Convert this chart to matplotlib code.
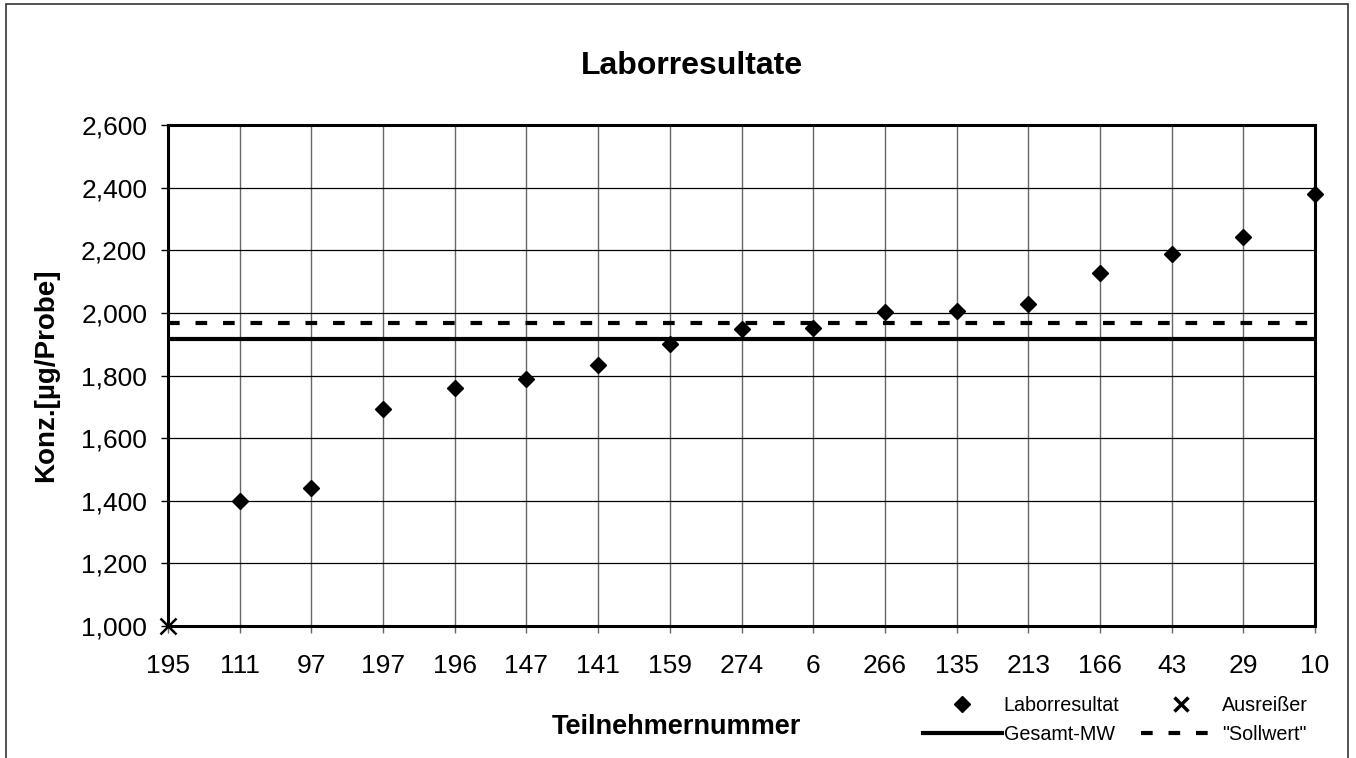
import matplotlib
matplotlib.use("Agg")
import matplotlib.pyplot as plt
from matplotlib.lines import Line2D
from matplotlib.patches import Rectangle

plt.rcParams["font.family"] = ["Liberation Sans", "DejaVu Sans"]

# Teilnehmer (x categories) and lab results
teilnehmer = ["195", "111", "97", "197", "196", "147", "141", "159", "274",
              "6", "266", "135", "213", "166", "43", "29", "10"]
laborresultat = [None, 1400, 1440, 1692, 1761, 1790, 1835, 1901, 1947,
                 1952, 2002, 2005, 2029, 2128, 2189, 2243, 2381]
ausreisser_idx = [0]
ausreisser_wert = [1000]
gesamt_mw = 1918
sollwert = 1967
y_ticks = [1000, 1200, 1400, 1600, 1800, 2000, 2200, 2400, 2600]

fig = plt.figure(figsize=(13.56, 7.58), dpi=100)
ax = fig.add_axes([0.1239, 0.1741, 0.8459, 0.661])

# outer chart frame
fig.patches.append(Rectangle((0.0045, -0.05), 0.9893, 1.0445, transform=fig.transFigure,
                             fill=False, edgecolor="#333333", linewidth=1.2))

x = list(range(len(teilnehmer)))
xs = [i for i, v in zip(x, laborresultat) if v is not None]
ys = [v for v in laborresultat if v is not None]

ax.set_xlim(0, len(teilnehmer) - 1)
ax.set_ylim(1000, 2600)

ax.axhline(gesamt_mw, color="black", linewidth=3, zorder=3)
ax.axhline(sollwert, color="black", linewidth=3, linestyle=(0, (2.8, 3.8)), zorder=3)
ax.plot(xs, ys, linestyle="none", marker="D", markersize=8, color="black",
        zorder=5, clip_on=False)
ax.plot(ausreisser_idx, ausreisser_wert, linestyle="none", marker="x", markersize=12,
        markeredgewidth=1.8, color="black", zorder=6, clip_on=False)

ax.set_xticks(x)
ax.set_xticklabels(teilnehmer)
ax.set_yticks(y_ticks)
ax.set_yticklabels([f"{v:,}" for v in y_ticks])
ax.tick_params(axis="both", labelsize=19, direction="out", length=5, width=1)
ax.tick_params(axis="x", pad=15, color="#666666")
ax.tick_params(axis="y", pad=10)

ax.grid(axis="y", color="black", linewidth=0.9)
ax.grid(axis="x", color="#666666", linewidth=1.0)
ax.set_axisbelow(True)
for s in ax.spines.values():
    s.set_linewidth(2.2)
    s.set_color("black")

fig.text(0.51, 1 - 66 / 758, "Laborresultate", fontsize=23, fontweight="bold",
         ha="center", va="center")
fig.text(0.4985, 1 - 727 / 758, "Teilnehmernummer", fontsize=19.5, fontweight="bold",
         ha="center", va="center")
ax.set_ylabel("Konz.[µg/Probe]", fontsize=20, fontweight="bold", labelpad=16)

handles = [
    Line2D([], [], linestyle="none", marker="D", markersize=8, color="black"),
    Line2D([], [], color="black", linewidth=3),
    Line2D([], [], linestyle="none", marker="x", markersize=10, markeredgewidth=2.5, color="black"),
    Line2D([], [], color="black", linewidth=3, linestyle=(0, (2.8, 3.8))),
]
labels = ["Laborresultat", "Gesamt-MW", "Ausreißer", '"Sollwert"']
fig.legend(handles, labels, ncol=2, loc="center", bbox_to_anchor=(0.8225, 0.05),
           frameon=False, fontsize=14.2, handlelength=4.0, handletextpad=0.1,
           columnspacing=1.1, labelspacing=0.5)

fig.savefig("out.png", dpi=100)
